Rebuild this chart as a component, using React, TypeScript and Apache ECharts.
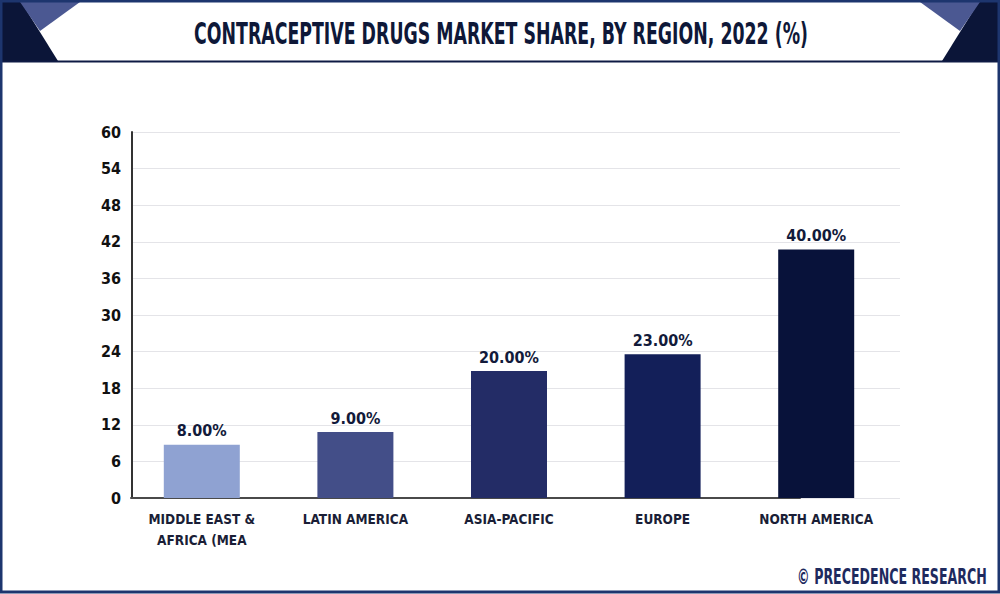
import React, { useEffect, useRef } from "react";
import * as echarts from "echarts";

const categories = ["MIDDLE EAST &\nAFRICA (MEA", "LATIN AMERICA", "ASIA-PACIFIC", "EUROPE", "NORTH AMERICA"];
const barHeights = [8.75, 10.8, 20.8, 23.55, 40.75];
const shareLabels = [8.0, 9.0, 20.0, 23.0, 40.0];
const barColors = ["#8fa2d2", "#434e88", "#232c66", "#131f59", "#08123a"];
const yMin = 0;
const yMax = 60;
const yInterval = 6;

const TITLE = "CONTRACEPTIVE DRUGS MARKET SHARE, BY REGION, 2022 (%)";
const WATERMARK = "© PRECEDENCE RESEARCH";
const FONT = '"Liberation Sans Narrow", "DejaVu Sans Condensed", "Roboto", sans-serif';

function fitScale(text: string, font: string, target: number): number {
  const c = document.createElement("canvas").getContext("2d");
  if (!c) return 1;
  c.font = font;
  const w = c.measureText(text).width;
  return w > 0 ? target / w : 1;
}

export default function App() {
  const ref = useRef<HTMLDivElement>(null);
  useEffect(() => {
    if (!ref.current) return;
    const chart = echarts.init(ref.current, undefined, { renderer: "svg" });
    const titleFont = "bold 30px " + FONT;
    const wmFont = "bold 22px " + FONT;
    const titleScale = fitScale(TITLE, titleFont, 614);
    const wmScale = fitScale(WATERMARK, wmFont, 190);

    const option: any = {
      animation: false,
      backgroundColor: "#ffffff",
      grid: [
        { left: 132, right: 100, top: 132, bottom: 96 },
        { left: 125, right: 107, top: 132, bottom: 96 },
        { left: 131, right: 200, top: 132, bottom: 96 },
      ],
      xAxis: [
        {
          gridIndex: 0,
          type: "category",
          data: categories,
          axisLine: { show: false },
          axisTick: { show: false },
          axisLabel: { show: false },
        },
        {
          gridIndex: 1,
          type: "category",
          data: categories,
          axisLine: { show: false },
          axisTick: { show: false },
          axisLabel: {
            color: "#1a1e36",
            fontFamily: FONT,
            fontWeight: "bold",
            fontSize: 13.5,
            lineHeight: 21,
            margin: 10,
            interval: 0,
          },
        },
        {
          gridIndex: 2,
          type: "category",
          data: [""],
          axisLine: { show: true, lineStyle: { color: "#4a4a4a", width: 2 } },
          axisTick: { show: false },
          axisLabel: { show: false },
        },
      ],
      yAxis: [
        {
          gridIndex: 0,
          type: "value",
          min: yMin,
          max: yMax,
          interval: yInterval,
          axisLine: { show: true, lineStyle: { color: "#333333", width: 2 } },
          axisTick: { show: false },
          axisLabel: {
            color: "#111111",
            fontFamily: FONT,
            fontWeight: "bold",
            fontSize: 16,
            margin: 11,
          },
          splitLine: { show: true, lineStyle: { color: "#e4e4e8", width: 1 } },
        },
        { gridIndex: 1, type: "value", min: yMin, max: yMax, show: false },
        { gridIndex: 2, type: "value", min: yMin, max: yMax, show: false },
      ],
      series: [
        {
          type: "bar",
          xAxisIndex: 1,
          yAxisIndex: 1,
          barWidth: 76,
          data: barHeights.map((v, i) => ({ value: v, itemStyle: { color: barColors[i] } })),
          label: {
            show: true,
            position: "top",
            distance: 6,
            color: "#121a3a",
            fontFamily: FONT,
            fontWeight: "bold",
            fontSize: 16,
            formatter: (p: any) => shareLabels[p.dataIndex].toFixed(2) + "%",
          },
          z: 5,
        },
      ],
      graphic: [
        { type: "rect", shape: { x: 1, y: 1, width: 998, height: 591 }, style: { fill: "none", stroke: "#1d356e", lineWidth: 3 }, z: 100 },
        { type: "polygon", shape: { points: [[0, 0], [20, 0], [58, 61], [0, 61]] }, style: { fill: "#0b1538" }, z: 50 },
        { type: "polygon", shape: { points: [[20, 2], [80, 2], [40, 31]] }, style: { fill: "#4b5892" }, z: 51 },
        { type: "polygon", shape: { points: [[1000, 0], [980, 0], [942, 61], [1000, 61]] }, style: { fill: "#0b1538" }, z: 50 },
        { type: "polygon", shape: { points: [[980, 2], [920, 2], [960, 31]] }, style: { fill: "#4b5892" }, z: 51 },
        { type: "line", shape: { x1: 0, y1: 61.5, x2: 1000, y2: 61.5 }, style: { stroke: "#0e1a44", lineWidth: 2 }, z: 52 },
        {
          type: "text",
          x: 501,
          y: 34,
          scaleX: titleScale,
          style: {
            text: TITLE,
            font: titleFont,
            fill: "#0e1838",
            align: "center",
            verticalAlign: "middle",
          },
          z: 60,
        },
        {
          type: "text",
          x: 892,
          y: 576,
          scaleX: wmScale,
          style: {
            text: WATERMARK,
            font: wmFont,
            fill: "#1e2a5e",
            align: "center",
            verticalAlign: "middle",
          },
          z: 60,
        },
      ],
    };
    chart.setOption(option);
    return () => chart.dispose();
  }, []);
  return (
    <div
      ref={ref}
      style={{ position: "absolute", left: 0, top: 0, width: 1000, height: 594, background: "#fff" }}
    />
  );
}
